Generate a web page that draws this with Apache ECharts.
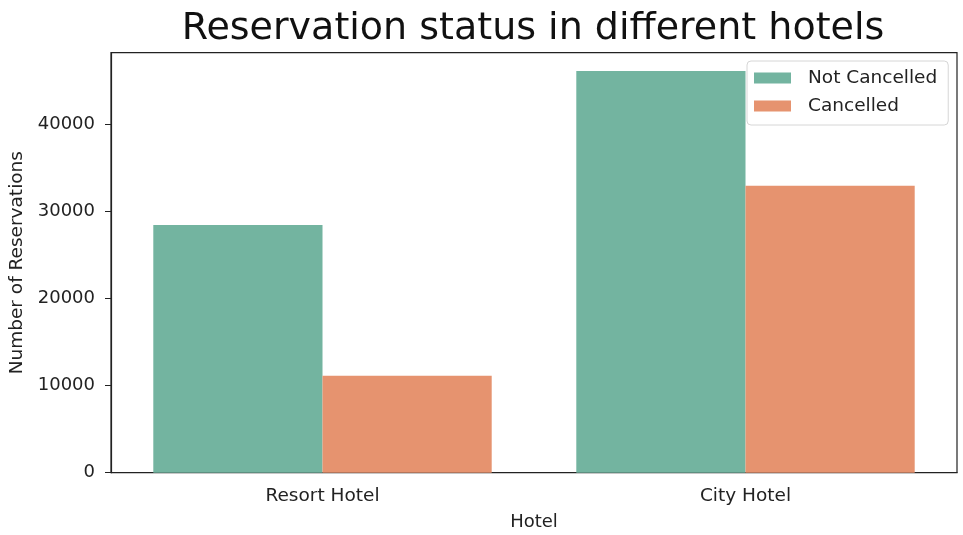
<!DOCTYPE html>
<html>
<head>
    <meta charset="utf-8">
    <title>Reservation status</title>
    <script src="https://cdn.jsdelivr.net/npm/echarts@6/dist/echarts.min.js"></script>
    <style>
        body, html {
            margin: 0;
            background: #fff;
        }
        #main {
            width: 963px;
            height: 535px;
        }
    </style>
</head>
<body>
<div id="main"></div>
<script type="text/javascript">
    var hotels = ['Resort Hotel', 'City Hotel'];
    var notCancelled = [28470, 46170];
    var cancelled = [11150, 32990];
    var yTicks = [0, 10000, 20000, 30000, 40000];

    var font = '"DejaVu Sans", sans-serif';
    var myChart = echarts.init(document.getElementById('main'));

    var option = {
        backgroundColor: '#fff',
        animation: false,
        textStyle: { fontFamily: font },
        title: {
            text: 'Reservation status in different hotels',
            left: 528,
            textAlign: 'center',
            top: 5,
            textStyle: { fontFamily: font, fontSize: 38, fontWeight: 'normal', color: '#111' }
        },
        legend: {
            data: ['Not Cancelled', 'Cancelled'],
            orient: 'vertical',
            left: 747,
            top: 61,
            padding: [7, 11, 9, 7],
            itemWidth: 37,
            itemHeight: 11,
            itemGap: 8,
            icon: 'rect',
            backgroundColor: '#fff',
            borderColor: '#d6d6d6',
            borderWidth: 1,
            borderRadius: 4,
            textStyle: { fontFamily: font, fontSize: 18.5, color: '#222', lineHeight: 20, padding: [0, 0, 0, 12] }
        },
        grid: {
            left: 111,
            right: 6,
            top: 52.7,
            bottom: 62.3,
            outerBoundsMode: 'none',
            show: true,
            borderColor: '#222',
            borderWidth: 1.2,
            containLabel: false
        },
        xAxis: {
            type: 'category',
            data: hotels,
            name: 'Hotel',
            nameLocation: 'middle',
            nameGap: 41,
            nameTextStyle: { fontFamily: font, fontSize: 18, color: '#222' },
            axisLine: { lineStyle: { color: '#222', width: 1.2 } },
            axisTick: { alignWithLabel: true, length: 6, lineStyle: { color: '#222' } },
            axisLabel: { fontFamily: font, fontSize: 18.5, color: '#222', margin: 14 }
        },
        yAxis: {
            type: 'value',
            min: 0,
            max: 48276,
            interval: 10000,
            name: 'Number of Reservations',
            nameLocation: 'middle',
            nameGap: 83,
            nameTextStyle: { fontFamily: font, fontSize: 18.5, color: '#222' },
            splitLine: { show: false },
            axisLine: { show: true, lineStyle: { color: '#222', width: 1.2 } },
            axisTick: {
                show: true, length: 6, lineStyle: { color: '#222' },
                customValues: yTicks
            },
            axisLabel: {
                fontFamily: font, fontSize: 18, color: '#222', margin: 16,
                customValues: yTicks,
                formatter: function (v) { return String(v); }
            }
        },
        series: [
            {
                name: 'Not Cancelled',
                type: 'bar',
                data: notCancelled,
                barWidth: '40%',
                barGap: '0%',
                itemStyle: { color: '#73b4a0' }
            },
            {
                name: 'Cancelled',
                type: 'bar',
                data: cancelled,
                barWidth: '40%',
                barGap: '0%',
                itemStyle: { color: '#e6936f' }
            }
        ]
    };

    myChart.setOption(option);
</script>
</body>
</html>
